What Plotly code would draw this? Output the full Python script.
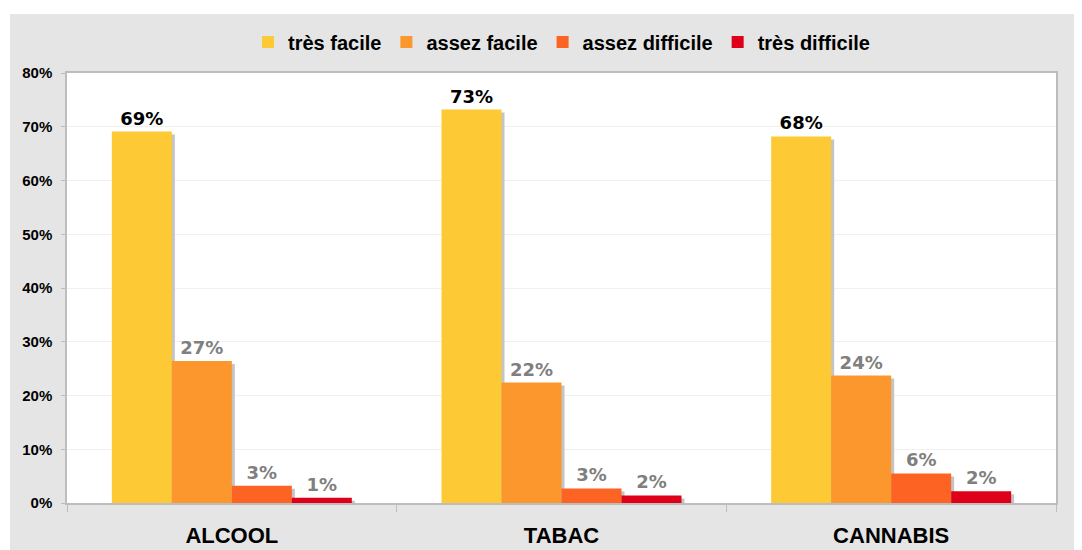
import plotly.graph_objects as go

categories = ['ALCOOL', 'TABAC', 'CANNABIS']
series_names = ['très facile', 'assez facile', 'assez difficile', 'très difficile']
tres_facile = [69.1, 73.2, 68.2]
assez_facile = [26.4, 22.4, 23.7]
assez_difficile = [3.2, 2.7, 5.5]
tres_difficile = [1.0, 1.4, 2.2]
labels = [['69%', '73%', '68%'],
          ['27%', '22%', '24%'],
          ['3%', '3%', '6%'],
          ['1%', '2%', '2%']]

series = [tres_facile, assez_facile, assez_difficile, tres_difficile]
colors = ['#FDC935', '#FB972C', '#FD6323', '#DE0019']
label_colors = ['#000000', '#7F7F7F', '#7F7F7F', '#7F7F7F']

# the page body adds an 8px margin, so the figure is 8px smaller and margins shifted
page_off = 8
W, H = 1082 - page_off, 550 - page_off
ml, mr, mt, mb = 67 - page_off, 26, 73 - page_off, 47
pw, ph = W - ml - mr, H - mt - mb
ymax = 80

bar_w = 0.182
start = -2 * bar_w
# shadow shift: ~3 px right, ~3 px down
sdx = 3 / (pw / len(categories))
sdy = 3 / (ph / ymax)

fig = go.Figure()

# shadows first so the bars sit on top of them
for i, vals in enumerate(series):
    fig.add_trace(go.Bar(x=categories, y=vals, base=[-sdy] * len(vals),
                         width=bar_w, offset=start + i * bar_w + sdx,
                         marker=dict(color='#C4C4C4', line=dict(width=0)),
                         showlegend=False, hoverinfo='skip'))

for i, (name, vals) in enumerate(zip(series_names, series)):
    fig.add_trace(go.Bar(x=categories, y=vals, name=name,
                         width=bar_w, offset=start + i * bar_w,
                         marker=dict(color=colors[i], line=dict(width=0)),
                         text=labels[i], textposition='outside',
                         constraintext='none', cliponaxis=False,
                         textfont=dict(family='DejaVu Sans', size=18,
                                       color=label_colors[i], weight='bold')))

fig.update_layout(
    width=W, height=H,
    margin=dict(l=ml, r=mr, t=mt, b=mb, autoexpand=False),
    barmode='overlay',
    paper_bgcolor='white',
    plot_bgcolor='rgba(0,0,0,0)',
    font=dict(family='Liberation Sans, Arial', size=15, color='black', weight='bold'),
    legend=dict(orientation='h', x=0.5, xanchor='center',
                y=(ph + mt - (42 - page_off)) / ph, yanchor='middle',
                font=dict(family='Liberation Sans, Arial', size=20,
                          color='black', weight='bold'),
                bgcolor='rgba(0,0,0,0)', itemclick=False, traceorder='normal'),
    shapes=[
        dict(type='rect', xref='paper', yref='paper', layer='below',
             x0=-(67 - 10) / pw, x1=1.1, y0=-0.3, y1=(ph + mt - (14 - page_off)) / ph,
             fillcolor='#E5E5E5', line=dict(width=0)),
        dict(type='rect', xref='paper', yref='paper', layer='below',
             x0=0, x1=1, y0=0, y1=1, fillcolor='white', line=dict(width=0)),
    ],
)

fig.update_xaxes(type='category', tickson='boundaries', ticks='outside', ticklen=7,
                 tickcolor='#BDBDBD', showline=True, linecolor='#BDBDBD', linewidth=1.5,
                 mirror=True, showgrid=False, automargin=False,
                 tickfont=dict(family='Liberation Sans, Arial', size=22, color='black',
                               weight='bold'),
                 ticklabelstandoff=12)
fig.update_yaxes(range=[0, ymax], dtick=10, ticksuffix='%', ticks='outside', ticklen=4,
                 tickcolor='#BDBDBD', showline=True, linecolor='#BDBDBD', linewidth=1.5,
                 mirror=True, gridcolor='#F0F0F0', zeroline=False, automargin=False,
                 tickfont=dict(family='Liberation Sans, Arial', size=15, color='black',
                               weight='bold'),
                 ticklabelstandoff=6)

fig.write_html('out.html')
